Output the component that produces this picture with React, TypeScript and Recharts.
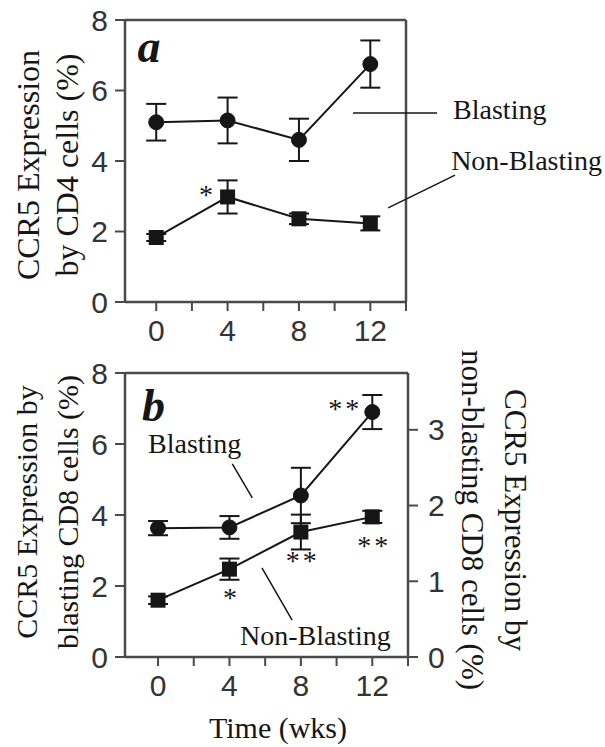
import React from "react";
import {
  LineChart,
  Line,
  XAxis,
  YAxis,
  ErrorBar,
  ReferenceLine,
  ReferenceDot,
  LabelList,
} from "recharts";

const weeks = [0, 4, 8, 12];
const xTicks = [0, 2, 4, 6, 8, 10, 12, 14];
const xLabelled = [0, 4, 8, 12];
const leftTicks = [0, 2, 4, 6, 8];
const rightTicks = [0, 1, 2, 3];

// panel a - CD4 cells
const cd4Blasting = [5.1, 5.15, 4.6, 6.75];
const cd4BlastingErr = [0.52, 0.65, 0.6, 0.67];
const cd4NonBlasting = [1.83, 2.98, 2.36, 2.23];
const cd4NonBlastingErr = [0.1, 0.47, 0.15, 0.2];
const cd4NonBlastingSig = ["", "*", "", ""];

// panel b - CD8 cells (non-blasting on the right axis)
const cd8Blasting = [3.63, 3.65, 4.55, 6.9];
const cd8BlastingErr = [0.2, 0.32, 0.78, 0.48];
const cd8BlastingSig = ["", "", "", "**"];
const cd8NonBlasting = [0.75, 1.16, 1.65, 1.85];
const cd8NonBlastingErr = [0.05, 0.14, 0.23, 0.08];
const cd8NonBlastingSig = ["", "*", "**", "**"];

const SERIF = "'Liberation Serif', 'Times New Roman', serif";
const SANS = "'Liberation Sans', Arial, sans-serif";
const INK = "#161616";
const AXIS = "#4a4a4a";

const tickStyle = { fontFamily: SANS, fontSize: 30, fill: "#333" };
const axisLine = { stroke: AXIS, strokeWidth: 2.5 };
const tickLine = { stroke: AXIS, strokeWidth: 2 };

const squareDot = (p: any) => (
  <rect key={`sq-${p.index}`} x={p.cx - 7.5} y={p.cy - 7.5} width={15} height={15} fill={INK} />
);
const circleDot = { r: 7.5, fill: INK, stroke: INK, strokeWidth: 1 };

// asterisks placed relative to their point
const stars = (dx: number, dy: number) => (p: any) =>
  p.value ? (
    <text
      key={`st-${p.index}`}
      x={p.x + dx}
      y={p.y + dy + 13}
      textAnchor="middle"
      fontFamily={SERIF}
      fontSize={28}
      letterSpacing={3}
      fill={INK}
    >
      {p.value}
    </text>
  ) : null;

const vertTitle = (lines: string[], size: number, xs: number[], cy: number, angle: number) => () => (
  <g>
    {lines.map((t, i) => (
      <text
        key={t}
        x={xs[i]}
        y={cy}
        transform={`rotate(${angle} ${xs[i]} ${cy})`}
        textAnchor="middle"
        fontFamily={SERIF}
        fontSize={size}
        fill={INK}
      >
        {t}
      </text>
    ))}
  </g>
);

const annot = (text: string, size: number, extra: any = {}) => (p: any) => {
  const vb = p.viewBox ?? { x: p.x, y: p.y };
  return (
    <text x={vb.x} y={vb.y} fontFamily={SERIF} fontSize={size} fill={INK} {...extra}>
      {text}
    </text>
  );
};

const xFmt = (v: number) => (xLabelled.includes(v) ? String(v) : "");

function PanelA() {
  const data = weeks.map((w, i) => ({
    week: w,
    blasting: cd4Blasting[i],
    blastingErr: cd4BlastingErr[i],
    nonBlasting: cd4NonBlasting[i],
    nonBlastingErr: cd4NonBlastingErr[i],
    sig: cd4NonBlastingSig[i],
  }));
  return (
    <LineChart width={605} height={360} data={data} margin={{ top: 20, right: 199, bottom: 20, left: 0 }}>
      <XAxis
        dataKey="week"
        type="number"
        domain={[-1.75, 14]}
        ticks={xTicks}
        interval={0}
        tickFormatter={xFmt}
        height={38}
        tickSize={9}
        tickMargin={9}
        axisLine={axisLine}
        tickLine={tickLine}
        tick={tickStyle}
      />
      <YAxis
        domain={[0, 8]}
        ticks={leftTicks}
        interval={0}
        width={125}
        tickSize={10}
        tickMargin={7}
        axisLine={axisLine}
        tickLine={tickLine}
        tick={tickStyle}
        label={vertTitle(["CCR5 Expression", "by CD4 cells (%)"], 32, [39, 78], 165, -90)}
      />
      <ReferenceLine y={8} stroke={AXIS} strokeWidth={2.5} />
      <ReferenceLine x={14} stroke={AXIS} strokeWidth={2.5} />
      <ReferenceDot x={-1.05} y={6.8} r={0} ifOverflow="visible" label={annot("a", 46, { fontWeight: "bold", fontStyle: "italic" })} />
      <ReferenceLine segment={[{ x: 11.03, y: 5.36 }, { x: 15.74, y: 5.36 }]} stroke={INK} strokeWidth={1.5} ifOverflow="visible" />
      <ReferenceLine segment={[{ x: 13.0, y: 2.67 }, { x: 16.75, y: 3.6 }]} stroke={INK} strokeWidth={1.5} ifOverflow="visible" />
      <ReferenceDot x={16.64} y={5.19} r={0} ifOverflow="visible" label={annot("Blasting", 28)} />
      <ReferenceDot x={16.53} y={3.74} r={0} ifOverflow="visible" label={annot("Non-Blasting", 28)} />
      <Line dataKey="blasting" stroke={INK} strokeWidth={2} dot={circleDot} isAnimationActive={false}>
        <ErrorBar dataKey="blastingErr" width={10} strokeWidth={2} stroke={INK} />
      </Line>
      <Line dataKey="nonBlasting" stroke={INK} strokeWidth={2} dot={squareDot} isAnimationActive={false}>
        <ErrorBar dataKey="nonBlastingErr" width={10} strokeWidth={2} stroke={INK} />
        <LabelList dataKey="sig" content={stars(-20, -6)} />
      </Line>
    </LineChart>
  );
}

function PanelB() {
  const data = weeks.map((w, i) => ({
    week: w,
    blasting: cd8Blasting[i],
    blastingErr: cd8BlastingErr[i],
    blastingSig: cd8BlastingSig[i],
    nonBlasting: cd8NonBlasting[i],
    nonBlastingErr: cd8NonBlastingErr[i],
    nonBlastingSig: cd8NonBlastingSig[i],
  }));
  return (
    <LineChart width={605} height={407} data={data} margin={{ top: 33, right: 0, bottom: 0, left: 0 }}>
      <XAxis
        dataKey="week"
        type="number"
        domain={[-1.85, 14]}
        ticks={xTicks}
        interval={0}
        tickFormatter={xFmt}
        height={90}
        tickSize={9}
        tickMargin={9}
        axisLine={axisLine}
        tickLine={tickLine}
        tick={tickStyle}
        label={annot("Time (wks)", 30, { x: 278, y: 398, textAnchor: "middle" })}
      />
      <YAxis
        yAxisId="left"
        domain={[0, 8]}
        ticks={leftTicks}
        interval={0}
        width={125}
        tickSize={10}
        tickMargin={7}
        axisLine={axisLine}
        tickLine={tickLine}
        tick={tickStyle}
        label={vertTitle(["CCR5 Expression by", "blasting CD8 cells (%)"], 30, [37, 78], 172, -90)}
      />
      <YAxis
        yAxisId="right"
        orientation="right"
        domain={[0, 3.75]}
        ticks={rightTicks}
        interval={0}
        width={197}
        tickSize={10}
        tickMargin={10}
        axisLine={axisLine}
        tickLine={tickLine}
        tick={tickStyle}
        label={vertTitle(["CCR5 Expression by", "non-blasting CD8 cells (%)"], 31, [505, 462], 180, 90)}
      />
      <ReferenceLine yAxisId="left" y={8} stroke={AXIS} strokeWidth={2.5} />
      <ReferenceDot yAxisId="left" x={-0.9} y={6.65} r={0} ifOverflow="visible" label={annot("b", 46, { fontWeight: "bold", fontStyle: "italic" })} />
      <ReferenceDot yAxisId="left" x={-0.56} y={5.75} r={0} ifOverflow="visible" label={annot("Blasting", 28)} />
      <ReferenceLine yAxisId="left" segment={[{ x: 4.16, y: 5.44 }, { x: 5.28, y: 4.48 }]} stroke={INK} strokeWidth={1.5} ifOverflow="visible" />
      <ReferenceDot yAxisId="left" x={4.59} y={0.34} r={0} ifOverflow="visible" label={annot("Non-Blasting", 28)} />
      <ReferenceLine yAxisId="left" segment={[{ x: 5.82, y: 2.51 }, { x: 7.51, y: 1.04 }]} stroke={INK} strokeWidth={1.5} ifOverflow="visible" />
      <Line yAxisId="left" dataKey="blasting" stroke={INK} strokeWidth={2} dot={circleDot} isAnimationActive={false}>
        <ErrorBar dataKey="blastingErr" width={10} strokeWidth={2} stroke={INK} />
        <LabelList dataKey="blastingSig" content={stars(-27, -7)} />
      </Line>
      <Line yAxisId="right" dataKey="nonBlasting" stroke={INK} strokeWidth={2} dot={squareDot} isAnimationActive={false}>
        <ErrorBar dataKey="nonBlastingErr" width={10} strokeWidth={2} stroke={INK} />
        <LabelList dataKey="nonBlastingSig" content={stars(2, 25)} />
      </Line>
    </LineChart>
  );
}

export default function App() {
  return (
    <div style={{ position: "absolute", left: 0, top: 0, width: 605, height: 747, background: "#fff" }}>
      <div style={{ position: "absolute", left: 0, top: 0 }}>
        <PanelA />
      </div>
      <div style={{ position: "absolute", left: 0, top: 340 }}>
        <PanelB />
      </div>
    </div>
  );
}
